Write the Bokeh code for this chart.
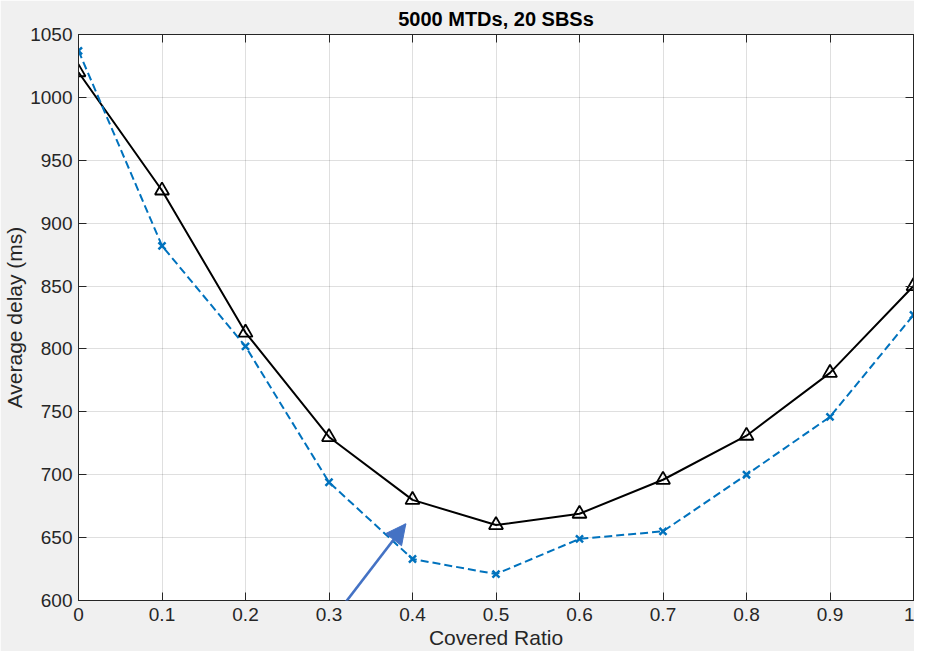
from bokeh.plotting import figure
from bokeh.models import (LinearAxis, FixedTicker, Arrow, NormalHead, Range1d,
                          PolyAnnotation, CustomLabelingPolicy)
from bokeh.embed import file_html
from bokeh.resources import INLINE

# ---- data ----
covered_ratio = [0.0, 0.1, 0.2, 0.3, 0.4, 0.5, 0.6, 0.7, 0.8, 0.9, 1.0]
delay_black = [1020, 926, 813, 730, 680, 660, 669, 696, 731, 781, 850]
delay_blue = [1037, 882, 802, 694, 633, 621, 649, 655, 700, 746, 827]
x_ticks = [0.0, 0.1, 0.2, 0.3, 0.4, 0.5, 0.6, 0.7, 0.8, 0.9, 1.0]
x_tick_labels = ["0", "0.1", "0.2", "0.3", "0.4", "0.5", "0.6", "0.7", "0.8", "0.9", "1"]
y_ticks = [600, 650, 700, 750, 800, 850, 900, 950, 1000, 1050]
title_text = "5000 MTDs, 20 SBSs"
x_label = "Covered Ratio"
y_label = "Average delay (ms)"
arrow_tail = (0.266, 552)
arrow_tip = (0.392, 661)

FONT = "Liberation Sans"
AX = "#262626"
BG = "#F0F0F0"
ARROW_C = "#4472C4"

p = figure(width=914, height=651, output_backend="svg", toolbar_location=None,
           x_range=Range1d(0, 1), y_range=Range1d(600, 1050),
           min_border_left=0, min_border_right=1, min_border_top=30, min_border_bottom=0)
p.background_fill_color = "white"
p.border_fill_color = BG
p.outline_line_color = AX

p.title.text = title_text
p.title.align = "center"
p.title.text_font = FONT
p.title.text_font_size = "20px"
p.title.text_font_style = "bold"
p.title.text_color = "black"
p.title.standoff = 10

no_labels = CustomLabelingPolicy(code="for (const i of indices) indices.unset(i); return indices")

def style_axis(ax, ticks, labels=True):
    ax.axis_line_color = AX
    ax.major_tick_line_color = AX
    ax.major_tick_in = 8
    ax.major_tick_out = 0
    ax.minor_tick_line_color = None
    ax.major_label_text_font = FONT
    ax.major_label_text_color = AX
    ax.axis_label_text_font = FONT
    ax.axis_label_text_color = AX
    ax.axis_label_text_font_style = "normal"
    ax.major_label_text_font_size = "19px"
    ax.axis_label_text_font_size = "21px"
    if not labels:
        ax.major_label_overrides = {t: "" for t in ticks}
        ax.major_label_policy = no_labels
        ax.major_label_standoff = 0

xt = FixedTicker(ticks=x_ticks)
yt = FixedTicker(ticks=y_ticks)

p.xaxis.ticker = xt
p.yaxis.ticker = yt
p.xaxis.major_label_overrides = {t: l for t, l in zip(x_ticks, x_tick_labels)}
p.xaxis.axis_label = x_label
p.yaxis.axis_label = y_label
style_axis(p.xaxis[0], x_ticks)
style_axis(p.yaxis[0], y_ticks)
p.xaxis.major_label_standoff = 7
p.xaxis.axis_label_standoff = 2
p.yaxis.major_label_standoff = 6
p.yaxis.axis_label_standoff = 1

top = LinearAxis(ticker=xt)
right = LinearAxis(ticker=yt)
style_axis(top, x_ticks, labels=False)
style_axis(right, y_ticks, labels=False)
p.add_layout(top, "above")
p.add_layout(right, "right")

p.xgrid.ticker = xt
p.ygrid.ticker = yt
p.grid.grid_line_color = AX
p.grid.grid_line_alpha = 0.15

# black solid line with open triangles
p.line(covered_ratio, delay_black, line_color="black", line_width=2)
p.scatter(covered_ratio, delay_black, marker="triangle", size=14,
          fill_color=None, line_color="black", line_width=1.8)

# blue dashed line with x markers
p.line(covered_ratio, delay_blue, line_color="#0072BD", line_width=2, line_dash="8 4")
p.scatter(covered_ratio, delay_blue, marker="x", size=10,
          line_color="#0072BD", line_width=2.5)

# annotation arrow
shaft = PolyAnnotation(xs=[arrow_tail[0], arrow_tip[0]], ys=[arrow_tail[1], arrow_tip[1]],
                       line_color=ARROW_C, line_width=2.5, fill_alpha=0)
p.add_layout(shaft)
arrow = Arrow(end=NormalHead(size=20, fill_color=ARROW_C, line_color=ARROW_C),
              x_start=arrow_tail[0], y_start=arrow_tail[1],
              x_end=arrow_tip[0], y_end=arrow_tip[1],
              line_color=ARROW_C, line_width=2.5)
p.add_layout(arrow)

open("out.html", "w").write(file_html(p, INLINE))
